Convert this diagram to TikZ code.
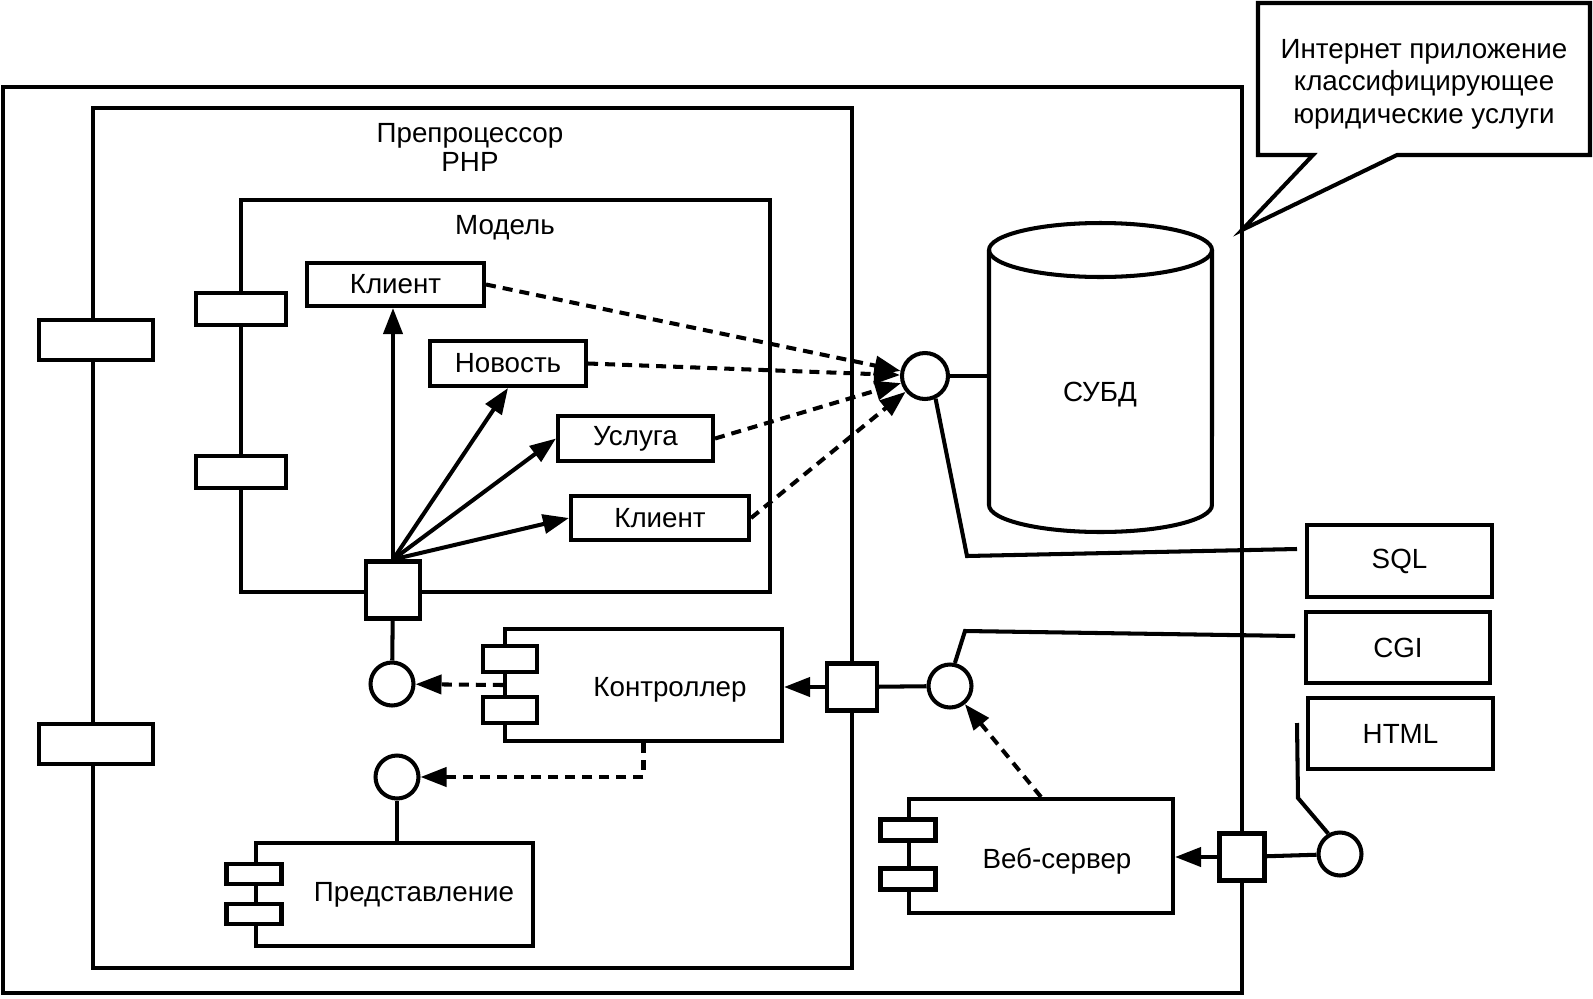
\documentclass[tikz,border=0pt]{standalone}
\usepackage{fontspec}
\setmainfont{Liberation Sans}
\usetikzlibrary{arrows.meta,fit}

\begin{document}
\begin{tikzpicture}[x=0.02cm, y=-0.02cm, line width=2.3pt,
  font=\fontsize{15.8}{17.6}\selectfont,
  box/.style={draw, inner sep=0pt},
  plug/.style={draw, fill=white, inner sep=0pt},
  port/.style={draw, fill=white, inner sep=0pt},
  iface/.style={draw, fill=white, circle, inner sep=0pt, minimum size=0.86cm},
  arr/.style={-{Triangle[length=0.52cm,width=0.38cm]}},
  dep/.style={arr, dash pattern=on 5.7pt off 4pt}]
\useasboundingbox (0,0) rectangle (1593,998);

% containers
\node[box, fit={(3,87) (1242,993)}] (app) {};
\node[box, fit={(93,108) (852,968)}] (php) {};
\node[align=center, font=\fontsize{15.8}{16.5}\selectfont] (phpname) at (470,147) {Препроцессор\\PHP};
\node[box, fit={(241,200) (770,592)}] (model) {};
\node (modelname) at (505,228) {Модель};

% plugs on the left edges
\node[plug, minimum width=2.28cm, minimum height=0.8cm] (phpplug1) at (96,340) {};
\node[plug, minimum width=2.28cm, minimum height=0.8cm] (phpplug2) at (96,744) {};
\node[plug, minimum width=1.8cm, minimum height=0.64cm] (modelplug1) at (241,309) {};
\node[plug, minimum width=1.8cm, minimum height=0.64cm] (modelplug2) at (241,472) {};

% classes of the model
\node[box, fill=white, fit={(307,263) (484,306)}, label=center:Клиент] (client1) {};
\node[box, fill=white, fit={(430,341) (586,386)}, label=center:Новость] (news) {};
\node[box, fill=white, fit={(558,416) (713,461)}, label=center:Услуга] (svc) {};
\node[box, fill=white, fit={(571,496) (749,540)}, label=center:Клиент] (client2) {};
\node[port, minimum width=1.08cm, minimum height=1.14cm] (modelsq) at (393,590) {};
\node[iface] (modelif) at (392,684) {};

% controller
\node[box, fit={(505,629) (782,741)}] (ctrl) {};
\node (ctrlname) at (670,690) {Контроллер};
\node[plug, minimum width=1.08cm, minimum height=0.52cm] (ctrlplug1) at (510,659) {};
\node[plug, minimum width=1.08cm, minimum height=0.52cm] (ctrlplug2) at (510,710) {};

% view
\node[iface] (viewif) at (397,777) {};
\node[box, fit={(256,843) (533,946)}] (view) {};
\node (viewname) at (414,895) {Представление};
\node[plug, minimum width=1.1cm, minimum height=0.4cm] (viewplug1) at (254,874) {};
\node[plug, minimum width=1.1cm, minimum height=0.4cm] (viewplug2) at (254,914) {};

% web server
\node[port, minimum width=1cm, minimum height=0.94cm] (phpsq) at (852,687) {};
\node[iface] (cgiif) at (950,686) {};
\node[box, fit={(909,799) (1173,913)}] (web) {};
\node (webname) at (1057,861) {Веб-сервер};
\node[plug, minimum width=1.1cm, minimum height=0.42cm] (webplug1) at (908,830) {};
\node[plug, minimum width=1.1cm, minimum height=0.42cm] (webplug2) at (908,879) {};
\node[port, minimum width=0.9cm, minimum height=0.94cm] (appsq) at (1242,857) {};
\node[iface] (htmlif) at (1340,854) {};

% database
\draw (989,250) -- (989,505) arc[start angle=180, end angle=360, x radius=2.23cm, y radius=0.54cm] -- (1212,250);
\draw (1100.5,250) ellipse [x radius=2.23cm, y radius=0.54cm];
\node[inner sep=0pt, fit={(989,223) (1212,532)}] (db) {};
\node (dbname) at (1100,395) {СУБД};
\node[iface, minimum size=0.92cm] (dbif) at (925,376) {};

% protocols
\node[box, fit={(1307,525) (1492,597)}, label=center:SQL] (sql) {};
\node[box, fit={(1306,612) (1490,683)}, label=center:CGI] (cgi) {};
\node[box, fit={(1308,698) (1493,769)}, label=center:HTML] (html) {};
\coordinate (sqlend) at (1297,549);
\coordinate (cgiend) at (1295,636);
\coordinate (htmlend) at (1297,723);

% connectors
\draw[arr] (modelsq.north) -- (modelsq.north |- client1.south);
\draw[arr] (modelsq.north) -- (news.south);
\draw[arr] (modelsq.north) -- (svc.west);
\draw[arr] (modelsq.north) -- (client2.west);
\foreach \c in {client1,news,svc,client2}
  \draw[dep] (\c.east) -- (dbif);
\draw (dbif) -- (dbif -| db.west);
\draw (dbif.-65) -- (967,556) -- (sqlend);
\draw (modelsq) -- (modelif);
\draw[dep] (ctrl.west) -- (modelif);
\draw[dep] (ctrl.south) |- (viewif);
\draw (viewif) -- (viewif |- view.north);
\draw[arr] (phpsq.west) -- (phpsq -| ctrl.east);
\draw (phpsq) -- (cgiif);
\draw (cgiif.78) -- (965,631) -- (cgiend);
\draw[dep] (web.north) -- (cgiif);
\draw[arr] (appsq.west) -- (appsq -| web.east);
\draw (appsq) -- (htmlif);
\draw (htmlif.120) -- (1298,798) -- (htmlend);

% note
\draw (1258,3) -- (1590,3) -- (1590,155) -- (1397,155) -- (1242,230) -- (1313,155) -- (1258,155) -- cycle;
\node[align=center, font=\fontsize{15.8}{18.4}\selectfont] (note) at (1424,84) {Интернет приложение\\классифицирующее\\юридические услуги};
\end{tikzpicture}
\end{document}
